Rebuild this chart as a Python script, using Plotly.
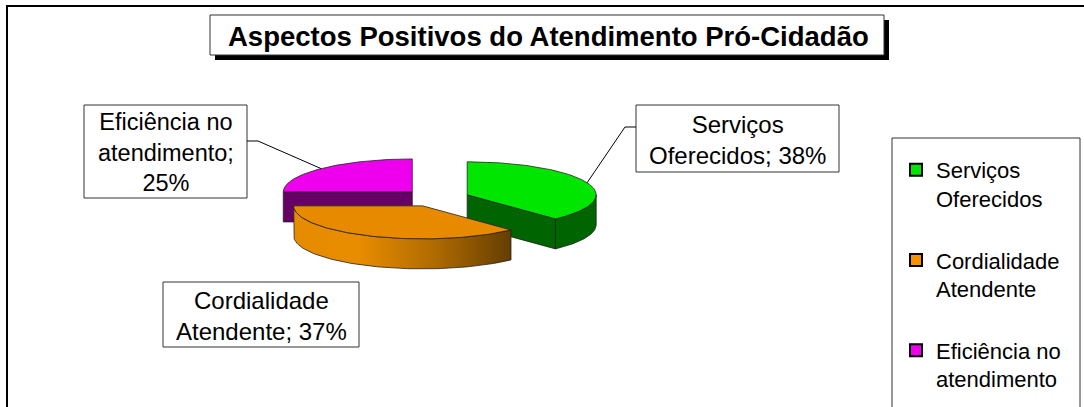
import numpy as np
import plotly.graph_objects as go

# ---------------- data ----------------
categories = ["Serviços Oferecidos", "Cordialidade Atendente", "Eficiência no atendimento"]
values = [38, 37, 25]
legend_labels = ["Serviços<br>Oferecidos", "Cordialidade<br>Atendente", "Eficiência no<br>atendimento"]
label_prefixes = ["Serviços<br>Oferecidos;", "Cordialidade<br>Atendente;", "Eficiência no<br>atendimento;<br>"]
title_text = "Aspectos Positivos do Atendimento Pró-Cidadão"

# ---------------- style ----------------
top_colors = ["#00E600", "#E88A00", "#EE00EE"]
side_colors = ["#006400", "#6A4200", "#660066"]
legend_colors = ["#00E600", "#F59100", "#EE00EE"]
FONT = "Liberation Sans, Arial, sans-serif"
W, H = 1084, 407

# pie geometry (pixel space)
CX, CY = 436, 198
RX, RY = 129, 33
DEPTH = 30
EXPLODE = 0.26
EDGE = dict(color="#222222", width=0.8)


def ell(cx, cy, deg):
    t = np.radians(deg)
    return cx + RX * np.sin(t), cy - RY * np.cos(t)


total = float(sum(values))
slices = []
start = 0.0
for v in values:
    a0, a1 = start, start + v / total * 360.0
    mid = (a0 + a1) / 2
    ox = CX + EXPLODE * RX * np.sin(np.radians(mid))
    oy = CY - EXPLODE * RY * np.cos(np.radians(mid))
    slices.append((a0, a1, mid, ox, oy))
    start = a1

fig = go.Figure()


def add_poly(xs, ys, color, gradient=None):
    kw = dict(x=list(xs) + [xs[0]], y=list(ys) + [ys[0]], mode="lines", fill="toself",
              line=EDGE, hoverinfo="skip", showlegend=False)
    if gradient is not None:
        kw["fillgradient"] = gradient
    else:
        kw["fillcolor"] = color
    fig.add_trace(go.Scatter(**kw))


draw_order = [2, 0, 1]
for i in draw_order:
    a0, a1, mid, ox, oy = slices[i]
    # radial walls
    for edge_ang, normal in ((a0, a0 - 90), (a1, a1 + 90)):
        if np.cos(np.radians(normal)) < -1e-6:
            ex, ey = ell(ox, oy, edge_ang)
            add_poly([ox, ex, ex, ox], [oy, ey, ey + DEPTH, oy + DEPTH], side_colors[i])
    # outer curved wall (front half only)
    lo, hi = max(a0, 90.0), min(a1, 270.0)
    if hi > lo:
        th = np.linspace(lo, hi, 80)
        tx, ty = ell(ox, oy, th)
        xs = np.concatenate([tx, tx[::-1]])
        ys = np.concatenate([ty, (ty + DEPTH)[::-1]])
        grad = None
        if i == 1:
            grad = dict(type="horizontal",
                        colorscale=[[0, "#E68A00"], [0.3, "#E88C00"], [0.65, "#B06A00"], [1, "#643E00"]])
        add_poly(xs, ys, side_colors[i], grad)
    # top face
    th = np.linspace(a0, a1, 120)
    tx, ty = ell(ox, oy, th)
    add_poly(np.concatenate([[ox], tx]), np.concatenate([[oy], ty]), top_colors[i])

# leader lines (from label box elbows to slice midpoints)
elbows = {0: [(636, 127), (625, 127)], 2: [(247, 141), (258, 141)]}
for i, pts in elbows.items():
    a0, a1, mid, ox, oy = slices[i]
    axp, ayp = ell(ox, oy, mid)
    fig.add_trace(go.Scatter(x=[p[0] for p in pts] + [axp], y=[p[1] for p in pts] + [ayp],
                             mode="lines", line=dict(color="black", width=1),
                             hoverinfo="skip", showlegend=False))

# legend entries
for i, lab in enumerate(legend_labels):
    fig.add_trace(go.Scatter(x=[None], y=[None], mode="markers", name=lab,
                             legendgroup=f"g{i}",
                             marker=dict(symbol="square", size=10, color=legend_colors[i],
                                         line=dict(color="black", width=1.5))))

# shapes: outer border, title box with shadow, label boxes, legend box
shapes = [
    dict(type="rect", x0=7, y0=6, x1=1100, y1=430, line=dict(color="black", width=2), fillcolor="rgba(0,0,0,0)", layer="below"),
    dict(type="rect", x0=215, y0=20, x1=889, y1=60, line=dict(width=0), fillcolor="black", layer="below"),
    dict(type="rect", x0=210, y0=15, x1=884, y1=55, line=dict(color="#333", width=1), fillcolor="white", layer="below"),
    dict(type="rect", x0=636, y0=105, x1=839, y1=172, line=dict(color="#333", width=1), fillcolor="white", layer="below"),
    dict(type="rect", x0=84, y0=105, x1=247, y1=198, line=dict(color="#333", width=1), fillcolor="white", layer="below"),
    dict(type="rect", x0=163, y0=282, x1=359, y1=347, line=dict(color="#333", width=1), fillcolor="white", layer="below"),
    dict(type="rect", x0=892, y0=138, x1=1080, y1=430, line=dict(color="#333", width=1), fillcolor="white", layer="below"),
]

label_pos = [(737.5, 139.5), (261, 315.5), (165.5, 152.5)]
label_sizes = [24, 24, 23.5]
annotations = [
    dict(x=548, y=36, text=f"<b>{title_text}</b>", showarrow=False, xref="x", yref="y",
         font=dict(family=FONT, size=27.5, color="black"), xanchor="center", yanchor="middle"),
]
for i, (lx, ly) in enumerate(label_pos):
    pct = f"{values[i] / total * 100:.0f}%"
    sep = "" if label_prefixes[i].endswith("<br>") else " "
    annotations.append(dict(x=lx, y=ly, xref="x", yref="y", showarrow=False,
                            text=label_prefixes[i] + sep + pct,
                            font=dict(family=FONT, size=label_sizes[i], color="black"),
                            xanchor="center", yanchor="middle", align="center"))

fig.update_layout(
    width=W, height=H, margin=dict(l=0, r=0, t=0, b=0),
    paper_bgcolor="white", plot_bgcolor="white",
    xaxis=dict(range=[0, W], visible=False, fixedrange=True),
    yaxis=dict(range=[H, 0], visible=False, fixedrange=True),
    shapes=shapes, annotations=annotations,
    showlegend=True,
    legend=dict(x=896 / W, y=1 - 149 / H, xanchor="left", yanchor="top",
                bgcolor="rgba(0,0,0,0)", borderwidth=0, traceorder="grouped",
                tracegroupgap=30, valign="top", itemsizing="constant",
                font=dict(family=FONT, size=22, color="black")),
)

fig.write_html("out.html", config={"displayModeBar": False},
               post_script="document.body.style.margin='0';document.body.style.overflow='hidden';")
